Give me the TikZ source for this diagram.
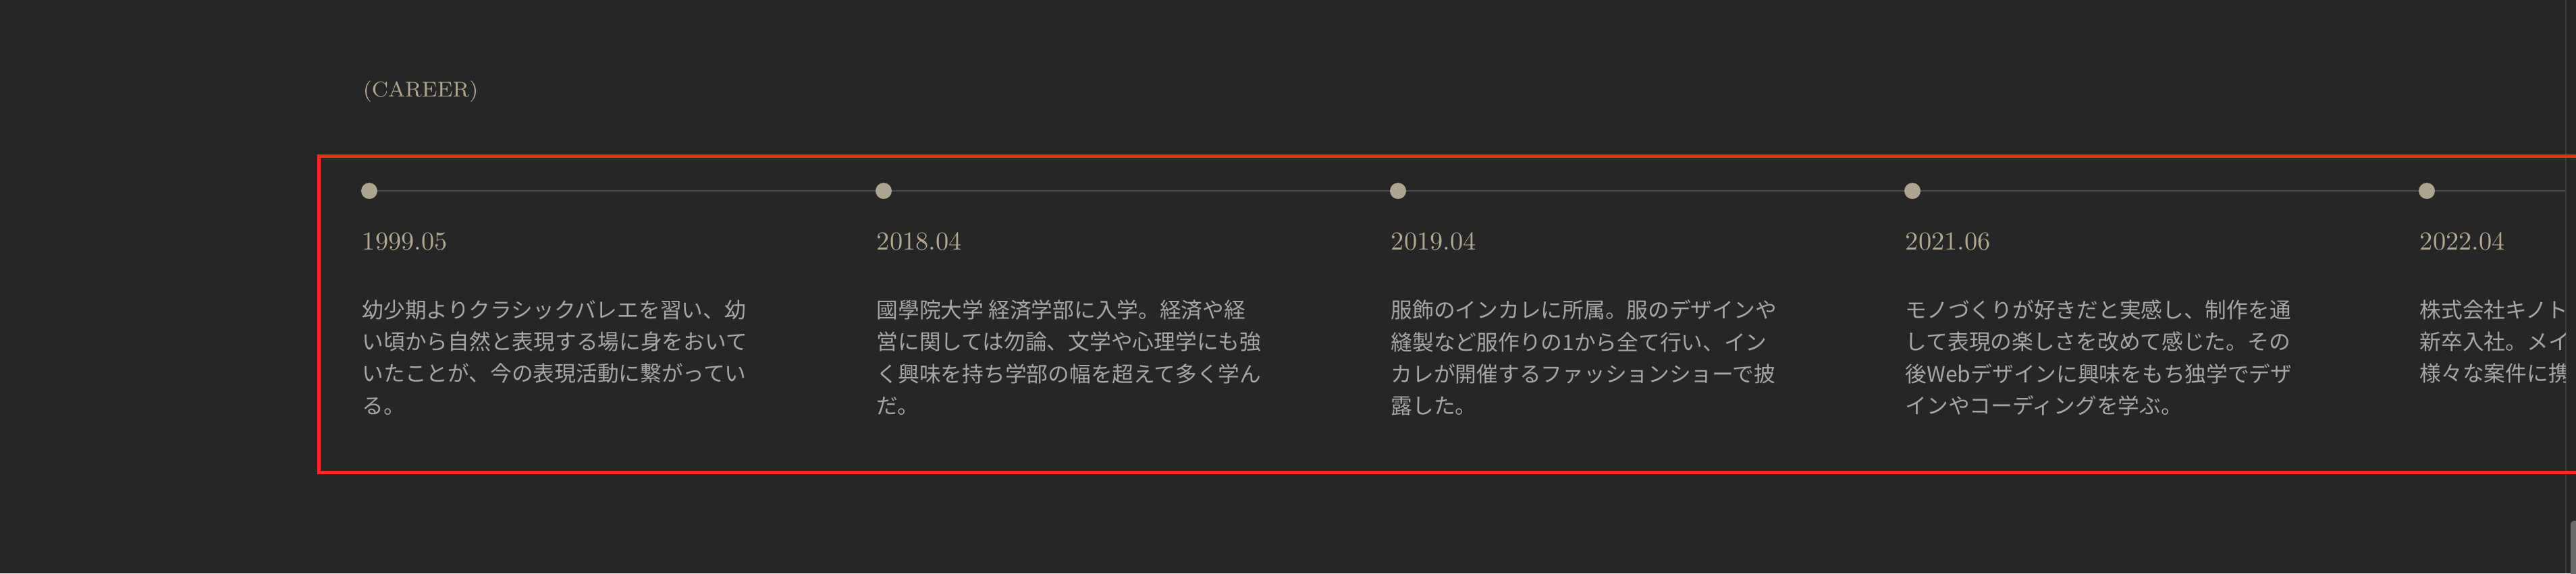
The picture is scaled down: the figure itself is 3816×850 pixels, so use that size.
\documentclass[tikz,border=0pt]{standalone}
\usepackage{fontspec}
\newfontfamily\jpfont{Noto Sans CJK JP}
\definecolor{bgdark}{HTML}{262626}
\definecolor{sand}{HTML}{B0A892}
\definecolor{dotsand}{HTML}{ADA58F}
\definecolor{bodygray}{HTML}{A6A6A6}
\definecolor{railgray}{HTML}{4A4A4A}
\definecolor{barline}{HTML}{3A3A3A}
\definecolor{thumbgray}{HTML}{6B6B6B}
\definecolor{markred}{HTML}{FF2B1E}

\begin{document}
\begin{tikzpicture}[x=0.25pt, y=-0.25pt,
    milestone/.style={circle, fill=dotsand, minimum size=6pt, inner sep=0pt},
    date/.style={anchor=base west, inner sep=0pt, text=sand, font=\fontsize{9.6pt}{11pt}\selectfont},
    desc/.style={anchor=north west, inner sep=0pt, align=left, text=bodygray, font=\jpfont\fontsize{7.93pt}{11.8pt}\selectfont},
    heading/.style={anchor=base west, inner sep=0pt, text=sand, font=\fontsize{7.9pt}{10pt}\selectfont},
    timeline/.style={draw=railgray, line width=0.5pt},
    highlight/.style={draw=markred, line width=1.25pt}
]
    % Page
    \fill[bgdark] (0,0) rectangle (3816,850);
    \useasboundingbox (0,0) rectangle (3816,850);
    \draw[barline, line width=0.5pt] (3800.5,0) -- (3800.5,850);
    \fill[thumbgray, rounded corners=1.5pt] (3808,772) rectangle (3822,870);

    \node[heading] (career) at (537,143) {(CAREER)};

    % Timeline
    \coordinate (start) at (547,283);
    \coordinate (end) at (3800,283);
    \draw[timeline] (start) -- (end);

    \node[milestone] (dot1999) at (547,283) {};
    \node[milestone] (dot2018) at (1309,283) {};
    \node[milestone] (dot2019) at (2071,283) {};
    \node[milestone] (dot2021) at (2833,283) {};
    \node[milestone] (dot2022) at (3595,283) {};

    % Dates
    \node[date] (date1999) at ([shift={(-11,87)}]dot1999.center) {1999.05};
    \node[date] (date2018) at ([shift={(-11,87)}]dot2018.center) {2018.04};
    \node[date] (date2019) at ([shift={(-11,87)}]dot2019.center) {2019.04};
    \node[date] (date2021) at ([shift={(-11,87)}]dot2021.center) {2021.06};
    \node[date] (date2022) at ([shift={(-11,87)}]dot2022.center) {2022.04};

    % Texts
    \node[desc] (desc1999) at ([shift={(-11,161)}]dot1999.center) {幼少期よりクラシックバレエを習い、幼\\い頃から自然と表現する場に身をおいて\\いたことが、今の表現活動に繋がってい\\る。};
    \node[desc] (desc2018) at ([shift={(-11,161)}]dot2018.center) {國學院大学 経済学部に入学。経済や経\\営に関しては勿論、文学や心理学にも強\\く興味を持ち学部の幅を超えて多く学ん\\だ。};
    \node[desc] (desc2019) at ([shift={(-11,161)}]dot2019.center) {服飾のインカレに所属。服のデザインや\\縫製など服作りの1から全て行い、イン\\カレが開催するファッションショーで披\\露した。};
    \node[desc] (desc2021) at ([shift={(-11,161)}]dot2021.center) {モノづくりが好きだと実感し、制作を通\\して表現の楽しさを改めて感じた。その\\後Webデザインに興味をもち独学でデザ\\インやコーディングを学ぶ。};
    \begin{scope}
        \clip (0,0) rectangle (3800,850);
        \node[desc] (desc2022) at ([shift={(-11,161)}]dot2022.center) {株式会社キノト\\新卒入社。メイ\\様々な案件に携};
    \end{scope}

    % Red frame
    \draw[highlight] (3830,231.5) -| (472.5,700) -- (3830,700);
\end{tikzpicture}
\end{document}
